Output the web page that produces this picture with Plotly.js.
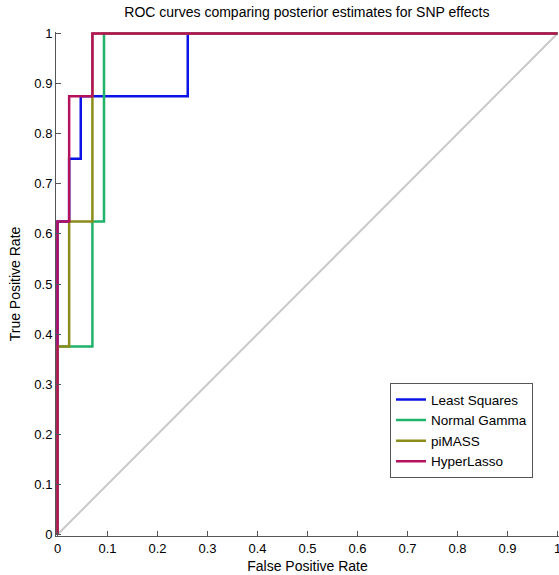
<!DOCTYPE html>
<html><head><meta charset="utf-8">
<script src="https://cdn.plot.ly/plotly-3.0.1.min.js"></script>
<style>html,body{margin:0;padding:0;background:#fff}#chart{width:559px;height:575px}</style>
</head><body><div id="chart"></div>
<script>
// Data (FPR in units of roughly 1/43)
const lsX = [0, 0, 0.0233, 0.0233, 0.0465, 0.0465, 0.2605, 0.2605, 1];
const lsY = [0, 0.625, 0.625, 0.75, 0.75, 0.875, 0.875, 1, 1];
const ngX = [0, 0, 0.0698, 0.0698, 0.093, 0.093, 1];
const ngY = [0, 0.375, 0.375, 0.625, 0.625, 1, 1];
const pmX = [0, 0, 0.0233, 0.0233, 0.0698, 0.0698, 1];
const pmY = [0, 0.375, 0.375, 0.625, 0.625, 1, 1];
const hlX = [0, 0, 0.0233, 0.0233, 0.0698, 0.0698, 1];
const hlY = [0, 0.625, 0.625, 0.875, 0.875, 1, 1];
const diagX = [0, 1];
const diagY = [0, 1];
const names = ["Least Squares", "Normal Gamma", "piMASS", "HyperLasso"];
const colors = ["#0a14e6", "#1fb36b", "#8c8c1a", "#b5125e"];

const traces = [
  {x: diagX, y: diagY, mode: "lines", line: {color: "#c8c8c8", width: 2}, showlegend: false, hoverinfo: "skip"},
  {x: lsX, y: lsY, name: names[0], mode: "lines", line: {color: colors[0], width: 2.5}},
  {x: ngX, y: ngY, name: names[1], mode: "lines", line: {color: colors[1], width: 2.5}},
  {x: pmX, y: pmY, name: names[2], mode: "lines", line: {color: colors[2], width: 2.5}},
  {x: hlX, y: hlY, name: names[3], mode: "lines", line: {color: colors[3], width: 2.5}}
];

const fam = "Arial, Liberation Sans, sans-serif";
const tickFont = {family: fam, size: 13, color: "#000"};
const titleFont = {family: fam, size: 14, color: "#000"};
const layout = {
  width: 559, height: 575,
  margin: {l: 55.5, r: 0, t: 31.5, b: 38.5},
  paper_bgcolor: "#fff", plot_bgcolor: "#fff",
  font: tickFont,
  title: {text: "ROC curves comparing posterior estimates for SNP effects", x: 0.549, xanchor: "center", y: 0.988, yanchor: "top", font: titleFont},
  xaxis: {range: [-0.003, 1.003], dtick: 0.1, tick0: 0, showgrid: false, zeroline: false, showline: true, linecolor: "#555", linewidth: 1,
    ticks: "inside", ticklen: 5, tickcolor: "#555", tickfont: tickFont, ticklabeloverflow: "allow",
    title: {text: "False Positive Rate", font: titleFont, standoff: 6}},
  yaxis: {range: [-0.003, 1.003], dtick: 0.1, tick0: 0, showgrid: false, zeroline: false, showline: true, linecolor: "#555", linewidth: 1,
    ticks: "inside", ticklen: 5, tickcolor: "#555", tickfont: tickFont, ticklabeloverflow: "allow",
    title: {text: "True Positive Rate", font: titleFont, standoff: 10}},
  legend: {x: 0.664, y: 0.303, xanchor: "left", yanchor: "top", bgcolor: "#fff", bordercolor: "#555", borderwidth: 1,
    font: {family: fam, size: 13.5, color: "#000"}, tracegroupgap: 0, entrywidth: 140}
};
Plotly.newPlot("chart", traces, layout, {displayModeBar: false, staticPlot: true});
</script></body></html>
